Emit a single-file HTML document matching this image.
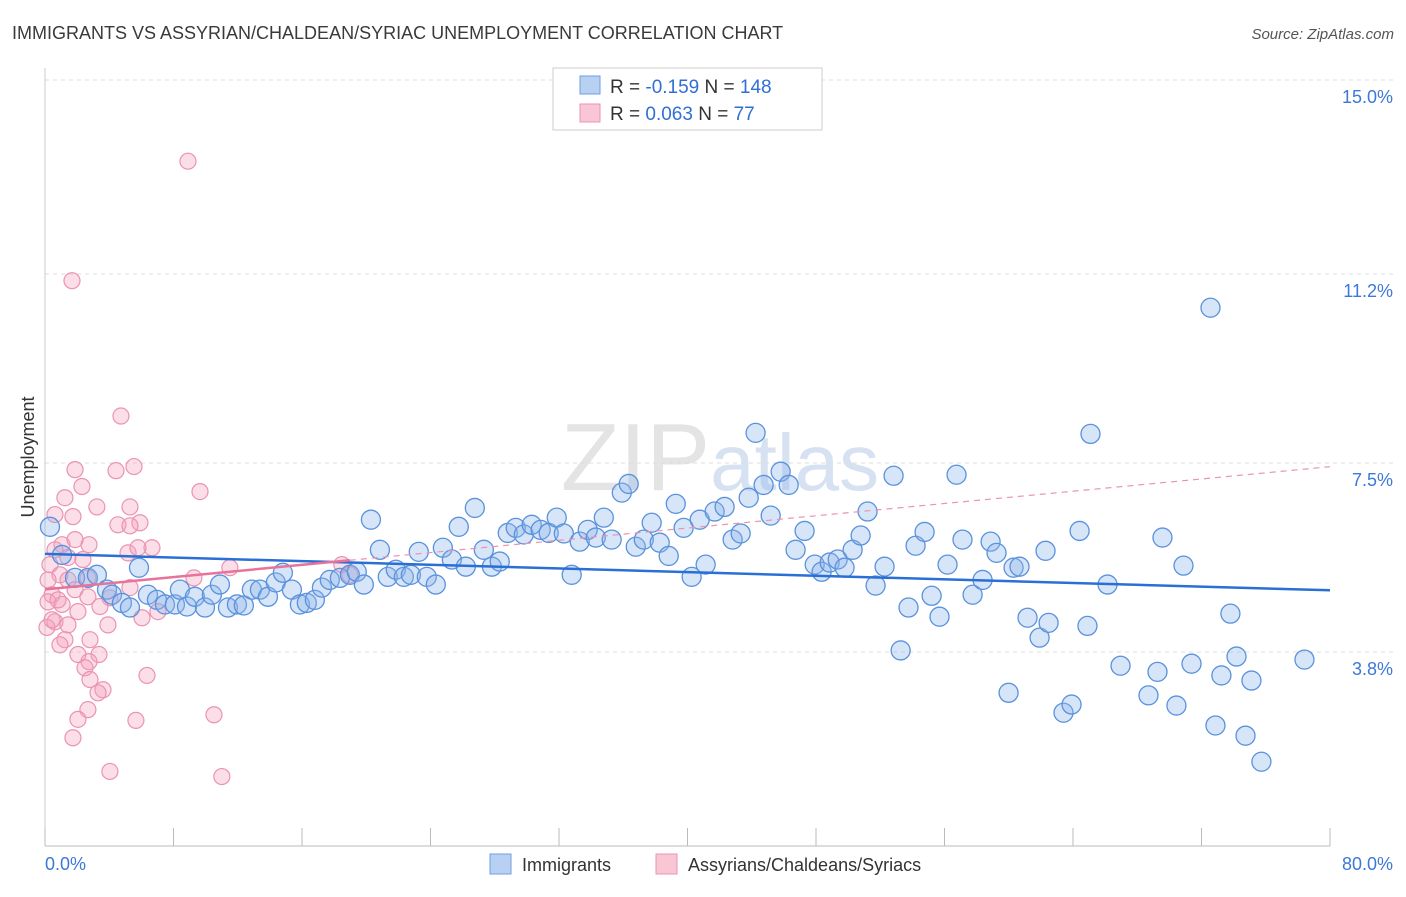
<!DOCTYPE html>
<html><head><meta charset="utf-8"><style>
body{margin:0;background:#fff;font-family:"Liberation Sans",sans-serif}
svg text{font-family:"Liberation Sans",sans-serif}
</style></head><body>
<svg id="chart" width="1406" height="892" xmlns="http://www.w3.org/2000/svg">
<text x="12" y="39" font-size="18" fill="#3a3a3a">IMMIGRANTS VS ASSYRIAN/CHALDEAN/SYRIAC UNEMPLOYMENT CORRELATION CHART</text>
<text x="1394" y="39" font-size="15" fill="#555" text-anchor="end" font-style="italic">Source: ZipAtlas.com</text>
<text x="720" y="490" font-size="96" fill="#e4e4e4" text-anchor="middle" font-family="Liberation Serif">ZIP<tspan fill="#d6e2f2" font-family="Liberation Sans" font-size="80">atlas</tspan></text>
<text transform="translate(34,457) rotate(-90)" font-size="18" fill="#333" text-anchor="middle">Unemployment</text>
<g id="grid"></g><g id="pinkg"></g><g id="blueg"></g><g id="lines"></g>
<g>
<rect x="553" y="68" width="269" height="62" fill="#fff" stroke="#ccc"/>
<rect x="580" y="76" width="20" height="18" fill="#b8d1f3" stroke="#6f9ee0"/>
<rect x="580" y="104" width="20" height="18" fill="#f9c6d6" stroke="#eb93b0"/>
<text x="610" y="93" font-size="19" fill="#333">R = <tspan fill="#2f6fd6">-0.159</tspan>   N = <tspan fill="#2f6fd6">148</tspan></text>
<text x="610" y="120" font-size="19" fill="#333">R =  <tspan fill="#2f6fd6">0.063</tspan>   N =   <tspan fill="#2f6fd6">77</tspan></text>
</g>
<g>
<rect x="490" y="854" width="21" height="20" fill="#b8d1f3" stroke="#6f9ee0"/>
<text x="522" y="871" font-size="18" fill="#333">Immigrants</text>
<rect x="656" y="854" width="21" height="20" fill="#f9c6d6" stroke="#eb93b0"/>
<text x="688" y="871" font-size="18" fill="#333">Assyrians/Chaldeans/Syriacs</text>
</g>
</svg>
<script>
const yTicks=[15.0,11.2,7.5,3.8];
const yTickLabels=["15.0%","11.2%","7.5%","3.8%"];
const xTicks=[0,8,16,24,32,40,48,56,64,72,80];
const xEndLabels=["0.0%","80.0%"];
const blueX=[0.31,1.06,1.87,2.67,3.23,3.86,4.17,4.79,5.29,5.85,6.41,6.97,7.47,8.09,8.40,8.84,9.33,9.96,10.39,10.89,11.39,11.95,12.38,12.88,13.38,13.88,14.37,14.81,15.37,15.87,16.30,16.80,17.24,17.73,18.36,18.98,19.41,19.85,20.29,20.85,21.34,21.84,22.34,22.78,23.27,23.77,24.33,24.77,25.33,25.76,26.20,26.76,27.32,27.82,28.31,28.81,29.31,29.81,30.30,30.86,31.36,31.86,32.30,32.79,33.29,33.79,34.29,34.79,35.28,35.91,36.34,36.78,37.28,37.77,38.27,38.83,39.27,39.76,40.26,40.76,41.13,41.69,42.31,42.81,43.31,43.81,44.24,44.74,45.18,45.80,46.30,46.73,47.29,47.92,48.35,48.85,49.35,49.78,50.28,50.78,51.21,51.71,52.27,52.83,53.27,53.76,54.20,54.76,55.20,55.69,56.19,56.75,57.12,57.75,58.37,58.87,59.24,59.99,60.30,60.67,61.17,61.92,62.48,63.41,63.91,62.29,64.41,64.90,65.09,66.15,66.96,68.70,69.26,69.57,70.44,70.88,71.38,72.56,72.87,73.24,73.80,74.18,74.74,75.11,75.73,78.41];
const blueY=[6.25,5.70,5.25,5.25,5.31,5.02,4.92,4.76,4.67,5.45,4.92,4.82,4.73,4.73,5.02,4.69,4.88,4.67,4.92,5.12,4.67,4.73,4.71,5.02,5.02,4.88,5.16,5.35,5.02,4.73,4.76,4.82,5.06,5.21,5.25,5.31,5.37,5.12,6.39,5.80,5.27,5.41,5.27,5.31,5.76,5.27,5.12,5.84,5.61,6.25,5.47,6.62,5.80,5.47,5.57,6.13,6.23,6.10,6.29,6.19,6.13,6.43,6.12,5.31,5.96,6.19,6.04,6.43,6.00,6.92,7.09,5.86,6.00,6.33,5.94,5.68,6.70,6.23,5.27,6.39,5.51,6.55,6.64,6.00,6.12,6.82,8.09,7.07,6.47,7.33,7.07,5.80,6.17,5.51,5.37,5.55,5.61,5.45,5.80,6.08,6.55,5.10,5.47,7.25,3.83,4.67,5.88,6.15,4.90,4.49,5.51,7.27,6.00,4.92,5.21,5.96,5.74,3.00,5.45,5.47,4.47,4.08,4.37,2.61,2.77,5.78,6.17,4.31,8.07,5.12,3.53,2.95,3.41,6.04,2.75,5.49,3.57,10.54,2.36,3.34,4.55,3.71,2.16,3.24,1.65,3.65];
const pinkX=[8.90,1.68,4.73,5.54,1.87,4.42,9.65,1.24,2.30,3.23,5.29,0.62,1.74,4.54,5.91,5.29,1.06,2.74,1.87,5.17,6.66,5.79,0.62,1.43,0.31,2.36,0.93,0.19,1.43,2.67,0.44,1.87,2.67,5.29,4.04,0.19,1.06,2.05,7.03,9.27,11.51,3.42,0.62,1.43,1.24,2.80,0.93,3.92,6.04,2.05,3.36,2.74,2.49,6.35,2.80,3.61,3.30,2.67,2.05,5.66,10.52,1.74,4.04,11.01,18.48,18.98,0.12,0.44,0.81];
const pinkY=[13.41,11.07,8.42,7.43,7.37,7.35,6.94,6.82,7.04,6.64,6.64,6.49,6.45,6.29,6.33,6.27,5.90,5.90,6.00,5.74,5.84,5.84,5.80,5.65,5.51,5.61,5.31,5.21,5.21,5.25,4.92,5.02,4.88,5.06,4.86,4.78,4.73,4.59,4.59,5.25,5.45,4.69,4.39,4.33,4.04,4.04,3.94,4.33,4.47,3.75,3.75,3.61,3.49,3.34,3.26,3.06,3.00,2.67,2.48,2.46,2.57,2.12,1.46,1.36,5.51,5.31,4.28,4.43,4.82];
const X0=45,X1=1330,Y0=846,YT=80;
function sx(v){return X0+(v/80)*(X1-X0);}
function sy(v){return Y0-(v/15)*(Y0-YT);}
const NS="http://www.w3.org/2000/svg";
function mk(tag,attrs,parent){const e=document.createElementNS(NS,tag);for(const k in attrs)e.setAttribute(k,attrs[k]);parent.appendChild(e);return e;}
const grid=document.getElementById('grid');
yTicks.forEach((t,i)=>{
  const l=mk('line',{x1:X0,x2:1394,y1:sy(t),y2:sy(t),stroke:'#ddd','stroke-dasharray':'4,4'},grid);
  
  
  const tx=mk('text',{x:1393,y:sy(t)+23,'font-size':18,fill:'#3c78d8','text-anchor':'end'},grid);
  tx.textContent=yTickLabels[i];
  
  
});
const ax=mk('line',{x1:X0,x2:X1,y1:Y0,y2:Y0,stroke:'#bbb'},grid);


const ay=mk('line',{x1:X0,x2:X0,y1:68,y2:Y0,stroke:'#ccc'},grid);


xTicks.forEach(t=>{
  const l=mk('line',{x1:sx(t),x2:sx(t),y1:828,y2:Y0,stroke:'#bbb'},grid);
  
  
});
const xl0=mk('text',{x:45,y:870,'font-size':18,fill:'#3c78d8'},grid);xl0.textContent=xEndLabels[0];


const xl1=mk('text',{x:1393,y:870,'font-size':18,fill:'#3c78d8','text-anchor':'end'},grid);xl1.textContent=xEndLabels[1];


const pg=document.getElementById('pinkg');
pinkX.forEach((x,i)=>{
  const c=mk('circle',{cx:sx(x),cy:sy(pinkY[i]),r:8,fill:'rgba(244,160,188,0.35)',stroke:'#eb93b0','stroke-width':1.2},pg);
  
  
});
const bg=document.getElementById('blueg');
blueX.forEach((x,i)=>{
  const c=mk('circle',{cx:sx(x),cy:sy(blueY[i]),r:9.5,fill:'rgba(140,180,235,0.35)',stroke:'#5a92dd','stroke-width':1.3},bg);
  
  
});
function fit(xs,ys){const n=xs.length;let mx=0,my=0;for(let i=0;i<n;i++){mx+=xs[i];my+=ys[i];}mx/=n;my/=n;let sxy=0,sxx=0;for(let i=0;i<n;i++){sxy+=(xs[i]-mx)*(ys[i]-my);sxx+=(xs[i]-mx)**2;}const b=sxy/sxx;return [my-b*mx,b];}
const lg=document.getElementById('lines');
const [ba,bb]=fit(blueX,blueY);
const bl=mk('line',{x1:sx(0),y1:sy(ba),x2:sx(80),y2:sy(ba+bb*80),stroke:'#2a6fd6','stroke-width':2.5},lg);


const [pa,pb]=fit(pinkX,pinkY);
const pmax=Math.max(...pinkX);
const pd=mk('line',{x1:sx(pmax),y1:sy(pa+pb*pmax),x2:sx(80),y2:sy(pa+pb*80),stroke:'#eb93b0','stroke-width':1.2,'stroke-dasharray':'6,5'},lg);


const pl=mk('line',{x1:sx(0),y1:sy(pa),x2:sx(pmax),y2:sy(pa+pb*pmax),stroke:'#e8739a','stroke-width':2.5},lg);


</script>
</body></html>
